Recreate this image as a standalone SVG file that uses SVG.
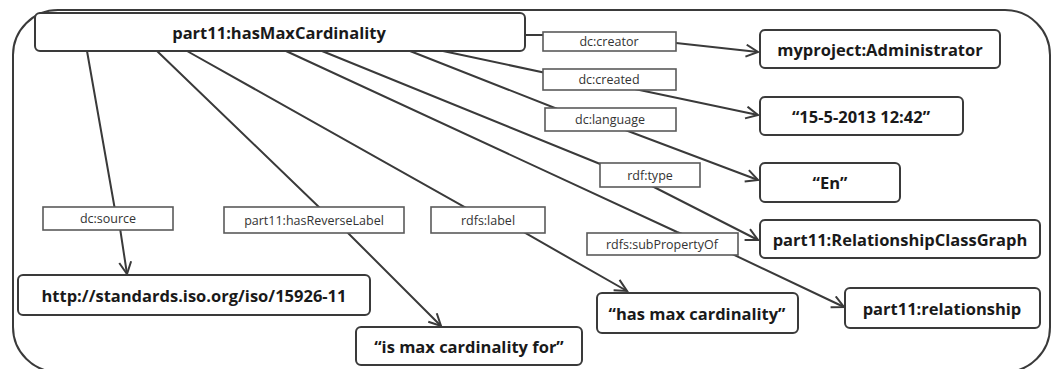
<svg xmlns="http://www.w3.org/2000/svg" width="1053" height="369" viewBox="0 0 1053 369">
<defs>
<style>
.node rect{fill:#fff;stroke:#3a3a3a;stroke-width:2}
.node text{font-family:"Open Sans","Liberation Sans",sans-serif;font-weight:bold;font-size:16.5px;fill:#1a1a1a;text-anchor:middle;dominant-baseline:central}
.lbl rect{fill:#fff;stroke:#5a5a5a;stroke-width:1.6}
.lbl text{font-family:"Open Sans","Liberation Sans",sans-serif;font-size:12.5px;fill:#333;text-anchor:middle;dominant-baseline:central}
.conn path{fill:none;stroke:#3a3a3a;stroke-width:2}
.frame{fill:none;stroke:#3a3a3a;stroke-width:2}
</style>
<marker id="arr" markerUnits="userSpaceOnUse" markerWidth="16" markerHeight="16" refX="13" refY="7" orient="auto">
<path d="M1,1 L13,7 L1,13" fill="none" stroke="#3a3a3a" stroke-width="2"/>
</marker>
</defs>
<rect width="1053" height="369" fill="#fff"/>
<rect class="frame" x="13" y="10" width="1037" height="362" rx="45" ry="45"/>
<g id="connectors" class="conn">
<path d="M525,35 L545,35 L676,43 L758,52" marker-end="url(#arr)"/>
<path d="M443,51 L560,76 L630,88 L758,115" marker-end="url(#arr)"/>
<path d="M410,51 L560,110 L620,128 L758,180" marker-end="url(#arr)"/>
<path d="M322,51 L610,168 L650,185 L758,240" marker-end="url(#arr)"/>
<path d="M286,51 L677,232 L728,252 L844,307" marker-end="url(#arr)"/>
<path d="M187,51 L470,210 L520,230 L627,291" marker-end="url(#arr)"/>
<path d="M157,51 L322,210 L345,230 L441,326" marker-end="url(#arr)"/>
<path d="M87,51 L115,210 L120,228 L127,274" marker-end="url(#arr)"/>
</g>
<g id="labels">
<g id="lbl-creator" class="lbl"><rect x="543" y="32" width="133" height="19"/><text x="609" y="41.5">dc:creator</text></g>
<g id="lbl-created" class="lbl"><rect x="543" y="69" width="133" height="21"/><text x="609" y="79.5">dc:created</text></g>
<g id="lbl-language" class="lbl"><rect x="545" y="108" width="131" height="23"/><text x="610" y="119.5">dc:language</text></g>
<g id="lbl-type" class="lbl"><rect x="600" y="163" width="100" height="24"/><text x="650" y="175">rdf:type</text></g>
<g id="lbl-subprop" class="lbl"><rect x="587" y="233" width="151" height="22"/><text x="662" y="244">rdfs:subPropertyOf</text></g>
<g id="lbl-label" class="lbl"><rect x="431" y="207" width="114" height="26"/><text x="488" y="220">rdfs:label</text></g>
<g id="lbl-reverse" class="lbl"><rect x="224" y="207" width="180" height="26"/><text x="314" y="220">part11:hasReverseLabel</text></g>
<g id="lbl-source" class="lbl"><rect x="43" y="207" width="130" height="23"/><text x="108" y="218.5">dc:source</text></g>
</g>
<g id="n-main" class="node"><rect x="35" y="13" width="490" height="38" rx="5"/><text x="279" y="32">part11:hasMaxCardinality</text></g>
<g id="n-admin" class="node"><rect x="760" y="30" width="240" height="38" rx="5"/><text x="880" y="49">myproject:Administrator</text></g>
<g id="n-date" class="node"><rect x="760" y="97" width="203" height="38" rx="5"/><text x="861" y="116">“15-5-2013 12:42”</text></g>
<g id="n-en" class="node"><rect x="760" y="163" width="140" height="39" rx="5"/><text x="830" y="182">“En”</text></g>
<g id="n-rcg" class="node"><rect x="760" y="220" width="280" height="38" rx="5"/><text x="900" y="239">part11:RelationshipClassGraph</text></g>
<g id="n-rel" class="node"><rect x="845" y="288" width="195" height="40" rx="5"/><text x="942" y="308">part11:relationship</text></g>
<g id="n-hasmax" class="node"><rect x="597" y="293" width="201" height="40" rx="5"/><text x="697" y="313">“has max cardinality”</text></g>
<g id="n-ismax" class="node"><rect x="356" y="327" width="226" height="38" rx="5"/><text x="469" y="346">“is max cardinality for”</text></g>
<g id="n-http" class="node"><rect x="18" y="275" width="352" height="40" rx="5"/><text x="194" y="295">http://standards.iso.org/iso/15926-11</text></g>
</svg>
